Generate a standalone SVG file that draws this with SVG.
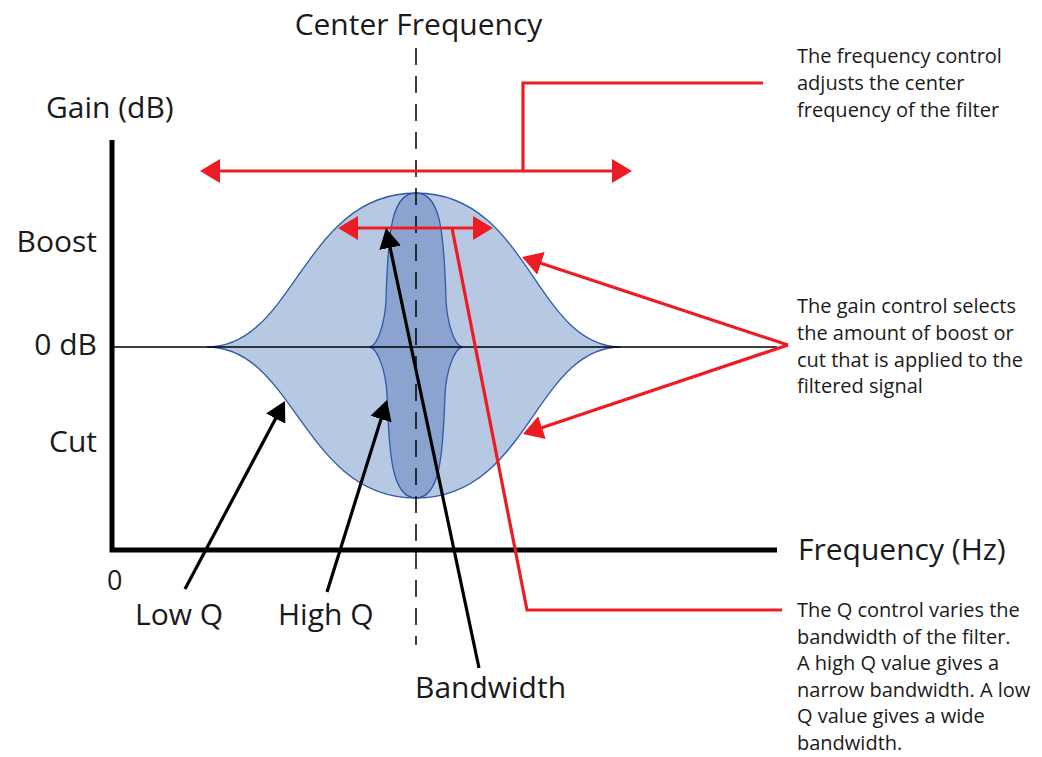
<svg xmlns="http://www.w3.org/2000/svg" width="1042" height="757" viewBox="0 0 1042 757">
<style>
text{font-family:"Open Sans","Liberation Sans",sans-serif;fill:#1a1a1a}
.big{font-size:30px}
.note{font-size:20px}
.red{stroke:#ed1c24;stroke-width:3.2;fill:none}
.blk{stroke:#000;stroke-width:3.2;fill:none}
.axis{stroke:#000;stroke-width:5;fill:none}
</style>
<defs>
<marker id="ar" markerUnits="userSpaceOnUse" viewBox="0 0 20 24" refX="16" refY="12" markerWidth="20" markerHeight="24" orient="auto-start-reverse">
<path d="M0,0 L20,12 L0,24 Z" fill="#ed1c24"/>
</marker>
<marker id="ab" markerUnits="userSpaceOnUse" viewBox="0 0 20 22" refX="16" refY="11" markerWidth="20" markerHeight="22" orient="auto">
<path d="M0,0 L20,11 L0,22 Z" fill="#000"/>
</marker>
</defs>
<rect width="1042" height="757" fill="#fff"/>
<g id="filter-curves">
<path id="low-q-curve" d="M207,347 C295,347 303,193 416,193 C529,193 535,347 621,347 C535,347 529,498 416,498 C303,498 295,347 207,347 Z" fill="#b7c8e3" stroke="#2e5aa8" stroke-width="1.3"/>
<path id="high-q-curve" d="M370,347 C378,345 385,322 386,300 C388,225 393,193 416,193 C439,193 444,225 446,300 C447,322 454,345 462,347 C454,349 446,372 445,395 C443,455 440,498 416,498 C392,498 389,455 387,395 C386,372 378,349 370,347 Z" fill="#8aa4cf" stroke="#2e5aa8" stroke-width="1.3"/>
</g>
<g id="axes">
<line x1="112" y1="347" x2="777" y2="347" stroke="#000" stroke-width="1.5"/>
<line x1="416" y1="48" x2="416" y2="645" stroke="#000" stroke-width="1.5" stroke-dasharray="17 11"/>
<polyline class="axis" points="112,140 112,550 777,550"/>
</g>
<g id="connectors">
<line class="red" x1="204" y1="171" x2="628" y2="171" marker-start="url(#ar)" marker-end="url(#ar)"/>
<polyline class="red" points="523,171 523,83 763,83"/>
<line class="red" x1="342" y1="228" x2="489" y2="228" marker-start="url(#ar)" marker-end="url(#ar)"/>
<polyline class="red" points="452,228 527,610 782,610"/>
<line class="red" x1="788" y1="345" x2="525.8" y2="258.3" marker-end="url(#ar)"/>
<line class="red" x1="788" y1="345" x2="526.8" y2="432.7" marker-end="url(#ar)"/>
<line class="blk" x1="479" y1="668" x2="386.8" y2="232" marker-end="url(#ab)"/>
<line class="blk" x1="327" y1="592" x2="385.8" y2="403.8" marker-end="url(#ab)"/>
<line class="blk" x1="185" y1="589" x2="283.1" y2="404.5" marker-end="url(#ab)"/>
</g>
<g id="axis-labels">
<text class="big" x="418.5" y="35" text-anchor="middle">Center Frequency</text>
<text class="big" x="46" y="118">Gain (dB)</text>
<text class="big" x="97" y="252" text-anchor="end">Boost</text>
<text class="big" x="97" y="355" text-anchor="end">0 dB</text>
<text class="big" x="97" y="452" text-anchor="end">Cut</text>
<text class="big" x="798" y="560">Frequency (Hz)</text>
<text x="107" y="590" style="font-size:27px">0</text>
</g>
<g id="curve-labels">
<text class="big" x="135" y="625">Low Q</text>
<text class="big" x="278" y="625">High Q</text>
<text class="big" x="415" y="698">Bandwidth</text>
</g>
<g id="note-frequency">
<text class="note" x="797" y="63">The frequency control</text>
<text class="note" x="797" y="90">adjusts the center</text>
<text class="note" x="797" y="117">frequency of the filter</text>
</g>
<g id="note-gain">
<text class="note" x="797" y="313">The gain control selects</text>
<text class="note" x="797" y="340">the amount of boost or</text>
<text class="note" x="797" y="366.5">cut that is applied to the</text>
<text class="note" x="797" y="393">filtered signal</text>
</g>
<g id="note-q">
<text class="note" x="797" y="617">The Q control varies the</text>
<text class="note" x="797" y="643.6">bandwidth of the filter.</text>
<text class="note" x="797" y="670.2">A high Q value gives a</text>
<text class="note" x="797" y="696.8">narrow bandwidth. A low</text>
<text class="note" x="797" y="723.4">Q value gives a wide</text>
<text class="note" x="797" y="750">bandwidth.</text>
</g>
</svg>
